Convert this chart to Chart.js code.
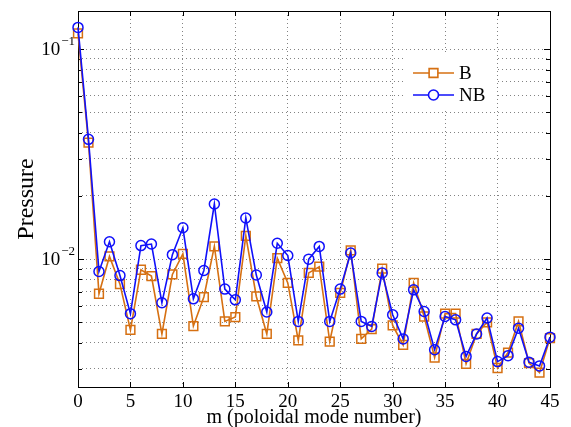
<!DOCTYPE html>
<html>
<head>
<meta charset="utf-8">
<script src="https://cdn.jsdelivr.net/npm/chart.js@4.4.1/dist/chart.umd.min.js"></script>
<style>
  html, body { margin: 0; padding: 0; background: #fff; }
  #wrap { width: 571px; height: 427px; }
</style>
</head>
<body>
<div id="wrap"><canvas id="pressure-chart" width="571" height="427"></canvas></div>
<script>
  // poloidal mode number m
  const modes = [0, 1, 2, 3, 4, 5, 6, 7, 8, 9, 10, 11, 12, 13, 14, 15, 16, 17, 18, 19, 20, 21, 22,
    23, 24, 25, 26, 27, 28, 29, 30, 31, 32, 33, 34, 35, 36, 37, 38, 39, 40, 41, 42, 43, 44, 45];

  // pressure, case B
  const pressureB = [0.119, 0.0359, 0.00684, 0.0103, 0.0076, 0.0046, 0.0089, 0.0083, 0.0044, 0.00845,
    0.0106, 0.0048, 0.0066, 0.0115, 0.00505, 0.0053, 0.0129, 0.00664, 0.0044, 0.0101,
    0.0077, 0.0041, 0.0086, 0.0092, 0.00405, 0.0069, 0.0110, 0.00417, 0.00464, 0.0090,
    0.00483, 0.0039, 0.0077, 0.00533, 0.0034, 0.0055, 0.0055, 0.00317, 0.0044, 0.0050,
    0.00303, 0.00359, 0.00505, 0.0032, 0.00288, 0.0042];

  // pressure, case NB
  const pressureNB = [0.127, 0.0372, 0.00873, 0.0121, 0.00835, 0.0055, 0.0116, 0.0118, 0.0062, 0.0105,
    0.0141, 0.00647, 0.00883, 0.0183, 0.0072, 0.0064, 0.0157, 0.0084, 0.0056, 0.0119,
    0.0104, 0.00505, 0.0100, 0.0115, 0.00505, 0.0072, 0.0107, 0.00505, 0.00478, 0.0086,
    0.00543, 0.00417, 0.00714, 0.00563, 0.0037, 0.00533, 0.00514, 0.00344, 0.0044, 0.00524,
    0.00325, 0.00347, 0.00469, 0.00323, 0.0031, 0.00425];

  // ticks
  const xTicks = [0, 5, 10, 15, 20, 25, 30, 35, 40, 45];
  const yTicks = [0.003, 0.004, 0.005, 0.006, 0.007, 0.008, 0.009,
    0.01, 0.02, 0.03, 0.04, 0.05, 0.06, 0.07, 0.08, 0.09, 0.1];
  const yDecades = [0.01, 0.1];
  const yDecadeLabels = ['\u22122', '\u22121'];

  const serif = '"Liberation Serif", "DejaVu Serif", serif';
  const orange = 'rgb(214, 112, 18)';
  const blue = 'rgb(16, 16, 250)';
  const gridColor = 'rgba(90, 90, 90, 0.75)';

  const toPoints = (vals) => modes.map((m, i) => ({ x: m, y: vals[i] }));

  // draws the frame, inner ticks, exponent labels, titles and legend
  const decorations = {
    id: 'decorations',
    beforeDatasetsDraw(chart) {
      const { ctx, chartArea: a, scales } = chart;
      ctx.save();
      ctx.strokeStyle = '#000';
      ctx.lineWidth = 1;
      ctx.beginPath();
      xTicks.forEach(v => {
        const px = Math.round(scales.x.getPixelForValue(v)) + 0.5;
        ctx.moveTo(px, a.bottom); ctx.lineTo(px, a.bottom - 5);
        ctx.moveTo(px, a.top); ctx.lineTo(px, a.top + 5);
      });
      yTicks.forEach(v => {
        const py = Math.round(scales.y.getPixelForValue(v)) + 0.5;
        const len = yDecades.includes(v) ? 6 : 4;
        ctx.moveTo(a.left, py); ctx.lineTo(a.left + len, py);
        ctx.moveTo(a.right, py); ctx.lineTo(a.right - len, py);
      });
      ctx.stroke();
      ctx.strokeRect(Math.round(a.left) + 0.5, Math.round(a.top) + 0.5,
        Math.round(a.right - a.left), Math.round(a.bottom - a.top));
      ctx.restore();
    },
    afterDraw(chart) {
      const { ctx, chartArea: a, scales } = chart;
      ctx.save();
      ctx.fillStyle = '#000';

      // y tick labels 10^n
      yDecades.forEach((v, i) => {
        const py = scales.y.getPixelForValue(v);
        ctx.font = '13px ' + serif;
        ctx.textAlign = 'right';
        ctx.textBaseline = 'middle';
        ctx.fillText(yDecadeLabels[i], a.left - 3, py - 8);
        const expW = ctx.measureText(yDecadeLabels[i]).width;
        ctx.font = '19px ' + serif;
        ctx.fillText('10', a.left - 4 - expW, py + 1);
      });

      // axis titles
      ctx.font = '20px ' + serif;
      ctx.textAlign = 'center';
      ctx.textBaseline = 'alphabetic';
      ctx.fillText('m (poloidal mode number)', (a.left + a.right) / 2, 423);
      ctx.save();
      ctx.translate(33, (a.top + a.bottom) / 2);
      ctx.rotate(-Math.PI / 2);
      ctx.font = '24px ' + serif;
      ctx.fillText('Pressure', 0, 0);
      ctx.restore();

      // legend
      ctx.fillStyle = '#fff';
      ctx.fillRect(405, 52, 90, 56);
      const rows = [chart.data.datasets[1], chart.data.datasets[0]];
      rows.forEach((ds, i) => {
        const y = 73 + i * 22;
        ctx.strokeStyle = ds.borderColor;
        ctx.lineWidth = ds.borderWidth;
        ctx.beginPath();
        ctx.moveTo(413, y); ctx.lineTo(454, y);
        ctx.stroke();
        Chart.helpers.drawPoint(ctx, {
          pointStyle: ds.pointStyle, radius: ds.pointRadius, borderWidth: ds.pointBorderWidth
        }, 433.5, y);
        ctx.fillStyle = '#000';
        ctx.font = '19px ' + serif;
        ctx.textAlign = 'left';
        ctx.textBaseline = 'middle';
        ctx.fillText(ds.label, 459, y + 1);
        ctx.fillStyle = '#fff';
      });
      ctx.restore();
    }
  };

  const pressureData = {
    datasets: [
      {
        label: 'NB',
        data: toPoints(pressureNB),
        borderColor: blue,
        backgroundColor: 'rgba(0,0,0,0)',
        borderWidth: 1.6,
        pointStyle: 'circle',
        pointRadius: 5,
        pointBorderWidth: 1.5,
        pointBackgroundColor: 'rgba(0,0,0,0)',
        tension: 0,
        clip: false
      },
      {
        label: 'B',
        data: toPoints(pressureB),
        borderColor: orange,
        backgroundColor: 'rgba(0,0,0,0)',
        borderWidth: 1.6,
        pointStyle: 'rect',
        pointRadius: 6.2,
        pointBorderWidth: 1.5,
        pointBackgroundColor: 'rgba(0,0,0,0)',
        tension: 0,
        clip: false
      }
    ]
  };

  const pressureConfig = {
    type: 'line',
    data: pressureData,
    plugins: [decorations],
    options: {
      responsive: false,
      animation: false,
      devicePixelRatio: 1,
      layout: { padding: { left: 0, top: 11, right: 21, bottom: 0 } },
      plugins: {
        legend: { display: false },
        tooltip: { enabled: false }
      },
      scales: {
        x: {
          type: 'linear',
          min: 0,
          max: 45,
          afterFit: (s) => { s.height = 40; },
          afterBuildTicks: (s) => { s.ticks = xTicks.map(v => ({ value: v })); },
          border: { display: false },
          grid: { color: gridColor, lineWidth: 1, drawTicks: false, tickBorderDash: [1, 3] },
          ticks: { color: '#000', font: { family: serif, size: 19 }, padding: 4, maxRotation: 0, autoSkip: false }
        },
        y: {
          type: 'logarithmic',
          min: 0.00246,
          max: 0.152,
          afterFit: (s) => { s.width = 78; },
          afterBuildTicks: (s) => { s.ticks = yTicks.map(v => ({ value: v })); },
          border: { display: false },
          grid: { color: gridColor, lineWidth: 1, drawTicks: false },
          ticks: { display: false, autoSkip: false }
        }
      }
    }
  };

  // dotted grid lines
  pressureConfig.options.scales.x.border.dash = [1, 3];
  pressureConfig.options.scales.y.border.dash = [1, 3];

  const pressureChart = new Chart(
    document.getElementById('pressure-chart'),
    pressureConfig
  );
</script>
</body>
</html>
